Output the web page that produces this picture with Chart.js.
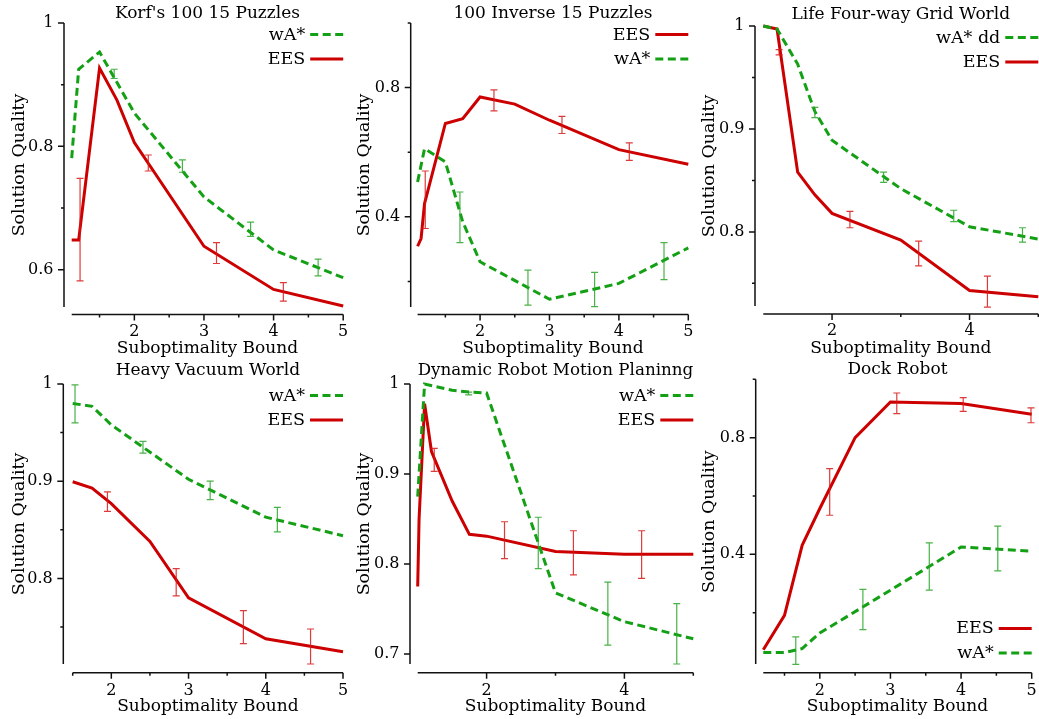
<!DOCTYPE html>
<html><head><meta charset="utf-8">
<script src="https://cdn.jsdelivr.net/npm/chart.js@4/dist/chart.umd.min.js"></script>
<style>
html,body{margin:0;padding:0;background:#fff;}
body{width:1039px;height:719px;position:relative;overflow:hidden;}
canvas{position:absolute;}
</style></head><body>
<canvas id="c1"></canvas><canvas id="c2"></canvas><canvas id="c3"></canvas>
<canvas id="c4"></canvas><canvas id="c5"></canvas><canvas id="c6"></canvas>
<script>
// ---------- Data ----------
// Panel 1: Korf's 100 15 Puzzles
const p1WaX = [1.1, 1.2, 1.5, 2, 3, 4, 5];
const p1WaY = [0.781, 0.925, 0.953, 0.854, 0.718, 0.632, 0.587];
const p1EesX = [1.1, 1.2, 1.5, 1.75, 2, 3, 4, 5];
const p1EesY = [0.648, 0.648, 0.927, 0.875, 0.806, 0.638, 0.568, 0.541];
const p1WaErrX = [1.71, 2.69, 3.67, 4.64];
const p1WaErrLo = [0.910, 0.758, 0.654, 0.590];
const p1WaErrHi = [0.925, 0.778, 0.677, 0.617];
const p1EesErrX = [1.22, 2.2, 3.18, 4.14];
const p1EesErrLo = [0.582, 0.760, 0.610, 0.549];
const p1EesErrHi = [0.748, 0.786, 0.644, 0.579];
const p1YTicks = [0.6, 0.8, 1.0];
const p1YMinor = [0.7, 0.9];

// Panel 2: 100 Inverse 15 Puzzles
const p2EesX = [1.1, 1.15, 1.2, 1.5, 1.75, 2, 2.5, 3, 4, 5];
const p2EesY = [0.309, 0.333, 0.441, 0.689, 0.704, 0.771, 0.749, 0.699, 0.608, 0.563];
const p2WaX = [1.1, 1.2, 1.5, 1.75, 2, 3, 4, 5];
const p2WaY = [0.508, 0.611, 0.570, 0.385, 0.261, 0.145, 0.194, 0.304];
const p2EesErrX = [1.21, 2.2, 3.18, 4.15];
const p2EesErrLo = [0.364, 0.728, 0.658, 0.575];
const p2EesErrHi = [0.542, 0.793, 0.711, 0.629];
const p2WaErrX = [1.71, 2.69, 3.65, 4.65];
const p2WaErrLo = [0.320, 0.127, 0.122, 0.206];
const p2WaErrHi = [0.477, 0.235, 0.228, 0.320];
const p2YTicks = [0.4, 0.8];
const p2YMinor = [0.2, 0.6, 1.0];

// Panel 3: Life Four-way Grid World
const p3WaX = [1.0, 1.2, 1.5, 1.75, 2, 3, 4, 5];
const p3WaY = [1.0, 0.997, 0.963, 0.917, 0.889, 0.842, 0.805, 0.793];
const p3EesX = [1.0, 1.2, 1.5, 1.75, 2, 3, 4, 5];
const p3EesY = [1.0, 0.997, 0.858, 0.836, 0.818, 0.792, 0.743, 0.737];
const p3WaErrX = [1.75, 2.75, 3.77, 4.77];
const p3WaErrLo = [0.911, 0.848, 0.810, 0.790];
const p3WaErrHi = [0.921, 0.858, 0.821, 0.804];
const p3EesErrX = [1.23, 2.26, 3.26, 4.26];
const p3EesErrLo = [0.972, 0.804, 0.767, 0.727];
const p3EesErrHi = [0.977, 0.820, 0.791, 0.757];
const p3YTicks = [0.8, 0.9, 1.0];
const p3YMinor = [0.75, 0.85, 0.95];

// Panel 4: Heavy Vacuum World
const p4WaX = [1.5, 1.75, 2, 3, 4, 5];
const p4WaY = [0.980, 0.977, 0.958, 0.902, 0.863, 0.844];
const p4EesX = [1.5, 1.75, 2, 2.5, 3, 4, 5];
const p4EesY = [0.8995, 0.893, 0.877, 0.838, 0.780, 0.738, 0.7246];
const p4WaErrX = [1.53, 2.41, 3.28, 4.15];
const p4WaErrLo = [0.960, 0.929, 0.881, 0.848];
const p4WaErrHi = [0.999, 0.941, 0.900, 0.873];
const p4EesErrX = [1.95, 2.84, 3.71, 4.58];
const p4EesErrLo = [0.869, 0.782, 0.733, 0.712];
const p4EesErrHi = [0.889, 0.810, 0.767, 0.748];
const p4YTicks = [0.8, 0.9, 1.0];
const p4YMinor = [0.75, 0.85, 0.95];

// Panel 5: Dynamic Robot Motion Planinng
const p5WaX = [1.0, 1.1, 1.5, 1.75, 2, 3, 4, 5];
const p5WaY = [0.875, 1.0, 0.993, 0.991, 0.990, 0.768, 0.736, 0.717];
const p5EesX = [1.0, 1.02, 1.1, 1.2, 1.5, 1.75, 2, 3, 4, 5];
const p5EesY = [0.775, 0.850, 0.978, 0.925, 0.870, 0.833, 0.831, 0.814, 0.811, 0.811];
const p5WaErrX = [1.74, 2.75, 3.76, 4.76];
const p5WaErrLo = [0.988, 0.795, 0.710, 0.689];
const p5WaErrHi = [0.991, 0.852, 0.780, 0.756];
const p5EesErrX = [1.24, 2.26, 3.26, 4.25];
const p5EesErrLo = [0.903, 0.806, 0.788, 0.784];
const p5EesErrHi = [0.9285, 0.847, 0.837, 0.837];
const p5YTicks = [0.7, 0.8, 0.9, 1.0];
const p5YMinor = [];

// Panel 6: Dock Robot
const p6EesX = [1.2, 1.5, 1.75, 2, 2.5, 3, 4, 5];
const p6EesY = [0.073, 0.191, 0.431, 0.557, 0.800, 0.922, 0.917, 0.880];
const p6WaX = [1.2, 1.5, 1.75, 2, 3, 4, 5];
const p6WaY = [0.063, 0.063, 0.077, 0.130, 0.277, 0.425, 0.411];
const p6EesErrX = [2.14, 3.09, 4.03, 4.99];
const p6EesErrLo = [0.534, 0.882, 0.890, 0.851];
const p6EesErrHi = [0.694, 0.953, 0.937, 0.902];
const p6WaErrX = [1.66, 2.61, 3.55, 4.52];
const p6WaErrLo = [0.023, 0.142, 0.277, 0.343];
const p6WaErrHi = [0.117, 0.280, 0.439, 0.497];
const p6YTicks = [0.4, 0.8];
const p6YMinor = [0.2, 0.6, 1.0];

// X tick sets
const xTicksA = [2, 3, 4, 5];
const xMinorA = [1.5, 2.5, 3.5, 4.5];
const xTicksB = [2, 4];
const xMinorB = [3, 5];

// ---------- Styles ----------
const FONT = "'DejaVu Serif', serif";
const RED = '#cc0000', GREEN = '#14a014';
const RED_ERR = 'rgba(215,25,25,0.85)', GREEN_ERR = 'rgba(40,165,40,0.85)';

const offsetAxes = {
  id: 'offsetAxes',
  afterDraw(chart, args, o) {
    const {ctx, chartArea: a, scales: {x, y}} = chart;
    const ax = a.left - o.yOff, ay = a.bottom + o.xOff;
    ctx.save();
    ctx.strokeStyle = '#111'; ctx.lineWidth = 1.5;
    ctx.beginPath();
    ctx.moveTo(ax, a.top); ctx.lineTo(ax, a.bottom);
    ctx.moveTo(a.left, ay); ctx.lineTo(a.right, ay);
    y.ticks.forEach(t => { const p = y.getPixelForValue(t.value); ctx.moveTo(ax, p); ctx.lineTo(ax - 6, p); });
    o.yMinor.forEach(v => { const p = y.getPixelForValue(v); ctx.moveTo(ax, p); ctx.lineTo(ax - 3, p); });
    x.ticks.forEach(t => { const p = x.getPixelForValue(t.value); ctx.moveTo(p, ay); ctx.lineTo(p, ay + 6); });
    o.xMinor.forEach(v => { const p = x.getPixelForValue(v); ctx.moveTo(p, ay); ctx.lineTo(p, ay + 3); });
    ctx.stroke();
    ctx.restore();
  }
};

const errBars = {
  id: 'errBars',
  afterDatasetsDraw(chart, args, o) {
    const {ctx, scales: {x, y}} = chart;
    ctx.save(); ctx.lineWidth = 1.2;
    o.sets.forEach(s => {
      ctx.strokeStyle = s.color; ctx.beginPath();
      s.x.forEach((xv, i) => {
        const px = x.getPixelForValue(xv), p1 = y.getPixelForValue(s.lo[i]), p2 = y.getPixelForValue(s.hi[i]);
        ctx.moveTo(px, p1); ctx.lineTo(px, p2);
        ctx.moveTo(px - 3.5, p1); ctx.lineTo(px + 3.5, p1);
        ctx.moveTo(px - 3.5, p2); ctx.lineTo(px + 3.5, p2);
      });
      ctx.stroke();
    });
    ctx.restore();
  }
};

const keyLegend = {
  id: 'keyLegend',
  afterDraw(chart, args, o) {
    const {ctx, chartArea: a} = chart;
    const ds = chart.data.datasets;
    ctx.save();
    ctx.font = '17.5px ' + FONT; ctx.textAlign = 'right'; ctx.textBaseline = 'middle'; ctx.fillStyle = '#000';
    ds.forEach((d, i) => {
      const yy = o.pos === 'bottom' ? a.bottom - 10.6 - (ds.length - 1 - i) * 24.5 : a.top + 12 + i * 24.5;
      ctx.fillText(d.label, a.right - 38, yy);
      ctx.strokeStyle = d.borderColor; ctx.lineWidth = 3; ctx.setLineDash(d.borderDash || []);
      ctx.beginPath(); ctx.moveTo(a.right - 33, yy - 0.5); ctx.lineTo(a.right, yy - 0.5); ctx.stroke();
    });
    ctx.restore();
  }
};

function pts(xs, ys) { return xs.map((x, i) => ({x, y: ys[i]})); }
function series(label, xs, ys, kind) {
  const wa = kind === 'wa';
  return {label, data: pts(xs, ys), borderColor: wa ? GREEN : RED, backgroundColor: wa ? GREEN : RED,
    borderWidth: 3, borderDash: wa ? [8, 4.5] : [], pointRadius: 0, tension: 0, clip: false};
}
const fmt = v => String(+Number(v).toFixed(3));

// layout table (positions only)
const panels = [
  {id: 'c1', title: "Korf's 100 15 Puzzles", box: [0, 0, 350, 360], area: [71.7, 343.2, 23, 307], tpad: 4, yOff: 7.7, xOff: 7.5,
   xr: [1.1, 5], yr: [0.5395, 1.0], xMaj: xTicksA, xMin: xMinorA, yMaj: p1YTicks, yMin: p1YMinor, legend: 'top',
   ds: [series('wA*', p1WaX, p1WaY, 'wa'), series('EES', p1EesX, p1EesY, 'ees')],
   err: [{x: p1WaErrX, lo: p1WaErrLo, hi: p1WaErrHi, color: GREEN_ERR}, {x: p1EesErrX, lo: p1EesErrLo, hi: p1EesErrHi, color: RED_ERR}]},
  {id: 'c2', title: '100 Inverse 15 Puzzles', box: [345, 0, 350, 360], area: [417.6, 688.3, 23, 307], tpad: 4, yOff: 6.9, xOff: 7.5,
   xr: [1.1, 5], yr: [0.121, 1.0], xMaj: xTicksA, xMin: xMinorA, yMaj: p2YTicks, yMin: p2YMinor, legend: 'top',
   ds: [series('EES', p2EesX, p2EesY, 'ees'), series('wA*', p2WaX, p2WaY, 'wa')],
   err: [{x: p2WaErrX, lo: p2WaErrLo, hi: p2WaErrHi, color: GREEN_ERR}, {x: p2EesErrX, lo: p2EesErrLo, hi: p2EesErrHi, color: RED_ERR}]},
  {id: 'c3', title: 'Life Four-way Grid World', box: [690, 0, 349, 360], area: [763.3, 1038.3, 26, 306], tpad: 5, yOff: 8.3, xOff: 8,
   xr: [1, 5], yr: [0.728, 1.0], xMaj: xTicksB, xMin: xMinorB, yMaj: p3YTicks, yMin: p3YMinor, legend: 'top',
   ds: [series('wA* dd', p3WaX, p3WaY, 'wa'), series('EES', p3EesX, p3EesY, 'ees')],
   err: [{x: p3WaErrX, lo: p3WaErrLo, hi: p3WaErrHi, color: GREEN_ERR}, {x: p3EesErrX, lo: p3EesErrLo, hi: p3EesErrHi, color: RED_ERR}]},
  {id: 'c4', title: 'Heavy Vacuum World', box: [0, 360, 350, 359], area: [72.7, 343, 384, 664], tpad: 1, yOff: 9.4, xOff: 8.7,
   xr: [1.5, 5], yr: [0.712, 1.0], xMaj: xTicksA, xMin: xMinorA, yMaj: p4YTicks, yMin: p4YMinor, legend: 'top',
   ds: [series('wA*', p4WaX, p4WaY, 'wa'), series('EES', p4EesX, p4EesY, 'ees')],
   err: [{x: p4WaErrX, lo: p4WaErrLo, hi: p4WaErrHi, color: GREEN_ERR}, {x: p4EesErrX, lo: p4EesErrLo, hi: p4EesErrHi, color: RED_ERR}]},
  {id: 'c5', title: 'Dynamic Robot Motion Planinng', box: [345, 360, 350, 359], area: [417.7, 693.3, 384, 664], tpad: 1, yOff: 7.7, xOff: 8.7,
   xr: [1, 5], yr: [0.689, 1.0], xMaj: xTicksB, xMin: xMinorB, yMaj: p5YTicks, yMin: p5YMinor, legend: 'top',
   ds: [series('wA*', p5WaX, p5WaY, 'wa'), series('EES', p5EesX, p5EesY, 'ees')],
   err: [{x: p5WaErrX, lo: p5WaErrLo, hi: p5WaErrHi, color: GREEN_ERR}, {x: p5EesErrX, lo: p5EesErrLo, hi: p5EesErrHi, color: RED_ERR}]},
  {id: 'c6', title: 'Dock Robot', box: [690, 360, 349, 359], area: [763.3, 1031.7, 379.3, 664], tpad: 0.3, yOff: 7.6, xOff: 8.7,
   xr: [1.2, 5], yr: [0.024, 1.0], xMaj: xTicksA, xMin: xMinorA, yMaj: p6YTicks, yMin: p6YMinor, legend: 'bottom',
   ds: [series('EES', p6EesX, p6EesY, 'ees'), series('wA*', p6WaX, p6WaY, 'wa')],
   err: [{x: p6WaErrX, lo: p6WaErrLo, hi: p6WaErrHi, color: GREEN_ERR}, {x: p6EesErrX, lo: p6EesErrLo, hi: p6EesErrHi, color: RED_ERR}]}
];

panels.forEach(p => {
  const [bx, by, bw, bh] = p.box;
  const [L, R, T, B] = p.area;
  const cv = document.getElementById(p.id);
  cv.width = bw; cv.height = bh;
  cv.style.left = bx + 'px'; cv.style.top = by + 'px';
  const titleH = T - by;
  const topRow = by === 0;
  const zeroPad = s => { s.paddingLeft = 0; s.paddingRight = 0; s.paddingTop = 0; s.paddingBottom = 0; };
  new Chart(cv, {
    type: 'line',
    data: {datasets: p.ds},
    plugins: [offsetAxes, errBars, keyLegend],
    options: {
      responsive: false, animation: false, devicePixelRatio: 1,
      layout: {padding: {left: 0, right: bx + bw - R, top: 0, bottom: 0}},
      plugins: {
        legend: {display: false}, tooltip: {enabled: false},
        title: {display: true, fullSize: false, text: p.title, color: '#000',
          font: {family: FONT, size: 17, weight: 'normal', lineHeight: '19px'},
          padding: {top: p.tpad, bottom: titleH - 19 - p.tpad}},
        offsetAxes: {yOff: p.yOff, xOff: p.xOff, yMinor: p.yMin, xMinor: p.xMin},
        errBars: {sets: p.err},
        keyLegend: {pos: p.legend}
      },
      scales: {
        x: {type: 'linear', position: 'bottom', min: p.xr[0], max: p.xr[1],
          afterBuildTicks: s => { s.ticks = p.xMaj.map(v => ({value: v})); },
          afterFit: s => { s.height = by + bh - B; zeroPad(s); },
          grid: {display: false, drawTicks: false}, border: {display: false},
          ticks: {color: '#000', font: {family: FONT, size: 16}, padding: topRow ? 15 : 17.5, maxRotation: 0, autoSkip: false, callback: fmt},
          title: {display: true, text: 'Suboptimality Bound', color: '#000',
            font: {family: FONT, size: 17, lineHeight: '19px'}, padding: {top: 0, bottom: topRow ? 2 : 3}}},
        y: {type: 'linear', position: 'left', min: p.yr[0], max: p.yr[1],
          afterBuildTicks: s => { s.ticks = p.yMaj.map(v => ({value: v})); },
          afterFit: s => { s.width = L - bx; zeroPad(s); },
          grid: {display: false, drawTicks: false}, border: {display: false},
          ticks: {color: '#000', font: {family: FONT, size: 16}, padding: p.yOff + 10.5, autoSkip: false, callback: fmt},
          title: {display: true, text: 'Solution Quality', color: '#000',
            font: {family: FONT, size: 17.4, lineHeight: '19px'}, padding: {top: 9.5, bottom: 0}}}
      }
    }
  });
});
</script>
</body></html>
